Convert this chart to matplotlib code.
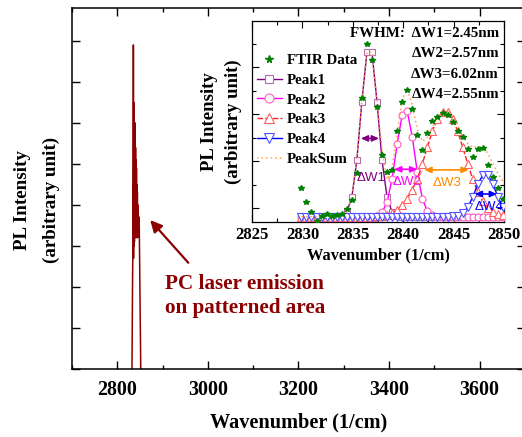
import numpy as np
import matplotlib
matplotlib.use("Agg")
import matplotlib.pyplot as plt
from matplotlib.ticker import MultipleLocator, FixedLocator

# ---------------- data ----------------
# main spectrum (wide view)
main_x = [2832.4, 2833.6, 2834.2, 2834.6, 2835.1, 2835.5, 2835.9, 2836.3, 2836.8, 2837.3, 2837.8,
          2838.3, 2838.8, 2839.3, 2839.8, 2840.3, 2840.8, 2841.3, 2841.8, 2842.3, 2842.8, 2843.3,
          2843.8, 2844.3, 2844.8, 2845.3, 2845.8, 2846.3, 2846.8, 2847.3, 2847.8, 2848.3, 2851.8]
main_y = [0.0, 2.0, 2.7, 4.5, 2.8, 7.9, 2.7, 6.5, 3.0, 6.0, 3.1, 5.6, 3.3, 6.0, 3.2, 5.4, 3.3,
          5.1, 3.3, 4.9, 3.2, 4.5, 3.3, 4.3, 3.2, 4.0, 3.3, 3.8, 3.4, 3.7, 3.4, 3.7, 0.0]

# inset (zoomed) data
wn = [2829.9, 2830.4, 2830.9, 2831.4, 2831.9, 2832.4, 2832.9, 2833.4, 2833.9, 2834.4, 2834.9,
      2835.4, 2835.9, 2836.4, 2836.9, 2837.4, 2837.9, 2838.4, 2838.9, 2839.4, 2839.9, 2840.4,
      2840.9, 2841.4, 2841.9, 2842.4, 2842.9, 2843.4, 2843.9, 2844.4, 2844.9, 2845.4, 2845.9,
      2846.4, 2846.9, 2847.4, 2847.9, 2848.4, 2848.9, 2849.4, 2849.9]
ftir = [0.166, 0.097, 0.047, 0.005, 0.030, 0.038, 0.028, 0.032, 0.040, 0.062, 0.110,
        0.244, 0.618, 0.885, 0.806, 0.570, 0.330, 0.249, 0.258, 0.450, 0.598, 0.656,
        0.560, 0.430, 0.357, 0.440, 0.500, 0.523, 0.540, 0.530, 0.495, 0.450, 0.424,
        0.360, 0.324, 0.360, 0.366, 0.285, 0.224, 0.166, 0.115]
peak1 = [0.025, 0.025, 0.025, 0.025, 0.025, 0.025, 0.025, 0.025, 0.029, 0.048, 0.121,
         0.306, 0.598, 0.844, 0.844, 0.598, 0.306, 0.121, 0.048, 0.029, 0.025, 0.025,
         0.025, 0.025, 0.025, 0.025, 0.025, 0.025, 0.025, 0.025, 0.025, 0.025, 0.025,
         0.025, 0.025, 0.025, 0.025, 0.025, 0.025, 0.025, 0.025]
peak2 = [0.025, 0.025, 0.025, 0.025, 0.025, 0.025, 0.025, 0.025, 0.025, 0.025, 0.025,
         0.025, 0.025, 0.025, 0.025, 0.029, 0.046, 0.098, 0.215, 0.387, 0.534, 0.550,
         0.423, 0.246, 0.115, 0.052, 0.031, 0.025, 0.025, 0.025, 0.025, 0.025, 0.025,
         0.025, 0.025, 0.025, 0.025, 0.025, 0.025, 0.025, 0.025]
peak3 = [0.025, 0.025, 0.025, 0.025, 0.025, 0.025, 0.025, 0.025, 0.025, 0.025, 0.025,
         0.025, 0.025, 0.025, 0.025, 0.026, 0.028, 0.035, 0.045, 0.060, 0.085, 0.115,
         0.160, 0.212, 0.289, 0.372, 0.451, 0.514, 0.548, 0.548, 0.514, 0.451, 0.372,
         0.289, 0.212, 0.149, 0.102, 0.069, 0.049, 0.037, 0.031]
peak4 = [0.025, 0.025, 0.025, 0.025, 0.025, 0.025, 0.025, 0.025, 0.025, 0.025, 0.025,
         0.025, 0.025, 0.025, 0.025, 0.025, 0.025, 0.025, 0.025, 0.025, 0.025, 0.025,
         0.025, 0.025, 0.025, 0.025, 0.025, 0.025, 0.025, 0.025, 0.026, 0.030, 0.042,
         0.071, 0.123, 0.187, 0.233, 0.233, 0.187, 0.123, 0.071]
peaksum = [0.025, 0.025, 0.025, 0.025, 0.025, 0.025, 0.025, 0.025, 0.029, 0.048, 0.121,
           0.306, 0.598, 0.844, 0.845, 0.603, 0.360, 0.210, 0.270, 0.440, 0.610, 0.660,
           0.580, 0.460, 0.400, 0.420, 0.470, 0.520, 0.550, 0.550, 0.525, 0.480, 0.430,
           0.390, 0.370, 0.375, 0.370, 0.340, 0.290, 0.240, 0.200]

fwhm_labels = ["\u0394W1", "\u0394W2", "\u0394W3", "\u0394W4"]
fwhm_values = [2.45, 2.57, 6.02, 2.55]
fwhm_colors = ["#800080", "#FF00FF", "#FF8C00", "#0000FF"]
# arrow spans (x from, x to, y) and label positions in inset data coords
arrow_spans = [(2835.8, 2837.6, 0.415), (2839.1, 2841.4, 0.261),
               (2842.1, 2846.5, 0.258), (2847.1, 2849.3, 0.138)]
label_pos = [(2836.85, 0.22), (2840.35, 0.20), (2844.4, 0.195), (2848.5, 0.072)]

SERIF = "Liberation Serif"
DARKRED = "#8B0000"

fig = plt.figure(figsize=(5.22, 4.37), dpi=100)

# ---------------- main axes ----------------
ax = fig.add_axes([72 / 522, (437 - 369) / 437, 452.5 / 522, 361 / 437])
ax.plot(main_x, main_y, color=DARKRED, lw=1.1)
ax.set_xlim(2700, 3699)
ax.set_ylim(0, 8.8)
ax.xaxis.set_major_locator(MultipleLocator(200))
ax.xaxis.set_minor_locator(MultipleLocator(100))
ax.yaxis.set_major_locator(MultipleLocator(1))
ax.tick_params(which="both", direction="in", top=True, right=True, width=1.0)
ax.tick_params(which="major", length=6)
ax.tick_params(which="minor", length=3)
ax.tick_params(axis="x", labelsize=14.4, pad=8)
ax.tick_params(axis="y", labelleft=False)
for lab in ax.get_xticklabels():
    lab.set_fontfamily(SERIF)
    lab.set_fontweight("bold")
for s in ax.spines.values():
    s.set_linewidth(1.1)
ax.set_xlabel("Wavenumber (1/cm)", fontfamily=SERIF, fontweight="bold", fontsize=14.6, labelpad=9)
fig.text(37 / 522, 1 - 200 / 437, "PL Intensity\n(arbitrary unit)", rotation=90,
         ha="center", va="center", fontfamily=SERIF, fontweight="bold", fontsize=13.7,
         linespacing=1.85)

ax.annotate("", xy=(2868.6, 3.68), xytext=(2960.8, 2.54),
            arrowprops=dict(arrowstyle="-|>,head_length=0.7,head_width=0.35",
                            color=DARKRED, lw=1.6))
ax.text(2905.5, 1.78, "PC laser emission\non patterned area", color=DARKRED,
        ha="left", va="center", fontfamily=SERIF, fontweight="bold", fontsize=15.2,
        linespacing=1.3)

# ---------------- inset ----------------
ins = fig.add_axes([252 / 522, (437 - 221.7) / 437, 252 / 522, 200.7 / 437])
ins.set_facecolor("white")
ins.plot(wn, peak1, color="#800080", lw=1.0, marker="s", ms=4.3, mfc="white",
         mec="#B070B0", mew=0.8, label="Peak1", zorder=3)
ins.plot(wn, peak2, color="#FF00FF", lw=1.0, marker="o", ms=5, mfc="white",
         mec="#FF60C0", mew=0.8, label="Peak2", zorder=3)
ins.plot(wn, peak3, color="#FF2020", lw=1.0, ls=(0, (4, 1.5)), marker="^", ms=5.5, mfc="white",
         mec="#FF6060", mew=0.8, label="Peak3", zorder=3)
ins.plot(wn, peak4, color="#0000FF", lw=1.0, marker="v", ms=5.5, mfc="white",
         mec="#5050FF", mew=0.8, label="Peak4", zorder=3)
ins.plot(wn, peaksum, color="#FFA050", lw=1.1, ls=(0, (1, 2)), label="PeakSum", zorder=4)
ins.plot(wn, ftir, ls="none", marker="*", ms=4.3, color="#008000", mec="#008000",
         label="FTIR Data", zorder=5)

for (x0, x1, yv), col in zip(arrow_spans, fwhm_colors):
    ins.annotate("", xy=(x0, yv), xytext=(x1, yv),
                 arrowprops=dict(arrowstyle="<|-|>,head_length=0.4,head_width=0.18",
                                 color=col, lw=1.2, shrinkA=0, shrinkB=0), zorder=6)
for (lx, ly), txt, col in zip(label_pos, fwhm_labels, fwhm_colors):
    ins.text(lx, ly, txt, color=col, ha="center", va="center",
             fontfamily="Liberation Sans", fontsize=9.6, zorder=7)

fw_lines = ["FWHM:  " + fwhm_labels[0] + "=%.2fnm" % fwhm_values[0]] + \
           [fwhm_labels[i] + "=%.2fnm" % fwhm_values[i] for i in range(1, 4)]
for i, line in enumerate(fw_lines):
    ins.text(0.98, (221.7 - (33.5 + 20.3 * i)) / 200.7, line, transform=ins.transAxes,
             ha="right", va="center", fontfamily=SERIF, fontweight="bold", fontsize=10.8, zorder=8)

ins.set_xlim(2825, 2850)
ins.set_ylim(0, 1)
ins.xaxis.set_major_locator(MultipleLocator(5))
ins.xaxis.set_minor_locator(MultipleLocator(2.5))
ins.yaxis.set_major_locator(FixedLocator([0.068, 0.302, 0.536, 0.770]))
ins.yaxis.set_minor_locator(FixedLocator([0.185, 0.419, 0.653, 0.887]))
ins.tick_params(which="both", direction="in", top=True, right=True, width=0.8)
ins.tick_params(which="major", length=5)
ins.tick_params(which="minor", length=3)
ins.tick_params(axis="x", labelsize=12, pad=4)
ins.tick_params(axis="y", labelleft=False)
for lab in ins.get_xticklabels():
    lab.set_fontfamily(SERIF)
    lab.set_fontweight("bold")
for s in ins.spines.values():
    s.set_linewidth(0.9)
ins.set_xlabel("Wavenumber (1/cm)", fontfamily=SERIF, fontweight="bold", fontsize=11.8, labelpad=3)
ins.set_ylabel("PL Intensity\n(arbitrary unit)", fontfamily=SERIF, fontweight="bold",
               fontsize=13.5, linespacing=1.45, labelpad=4)

handles, labels = ins.get_legend_handles_labels()
order = [5, 0, 1, 2, 3, 4]
leg = ins.legend([handles[i] for i in order], [labels[i] for i in order],
                 loc="upper left", bbox_to_anchor=(0.0, 0.86), frameon=False,
                 prop=dict(family=SERIF, weight="bold", size=10.8),
                 handlelength=1.7, handletextpad=0.35, labelspacing=0.42,
                 borderpad=0.0, borderaxespad=0.3, markerscale=1.3)

fig.savefig("out.png", dpi=100)
